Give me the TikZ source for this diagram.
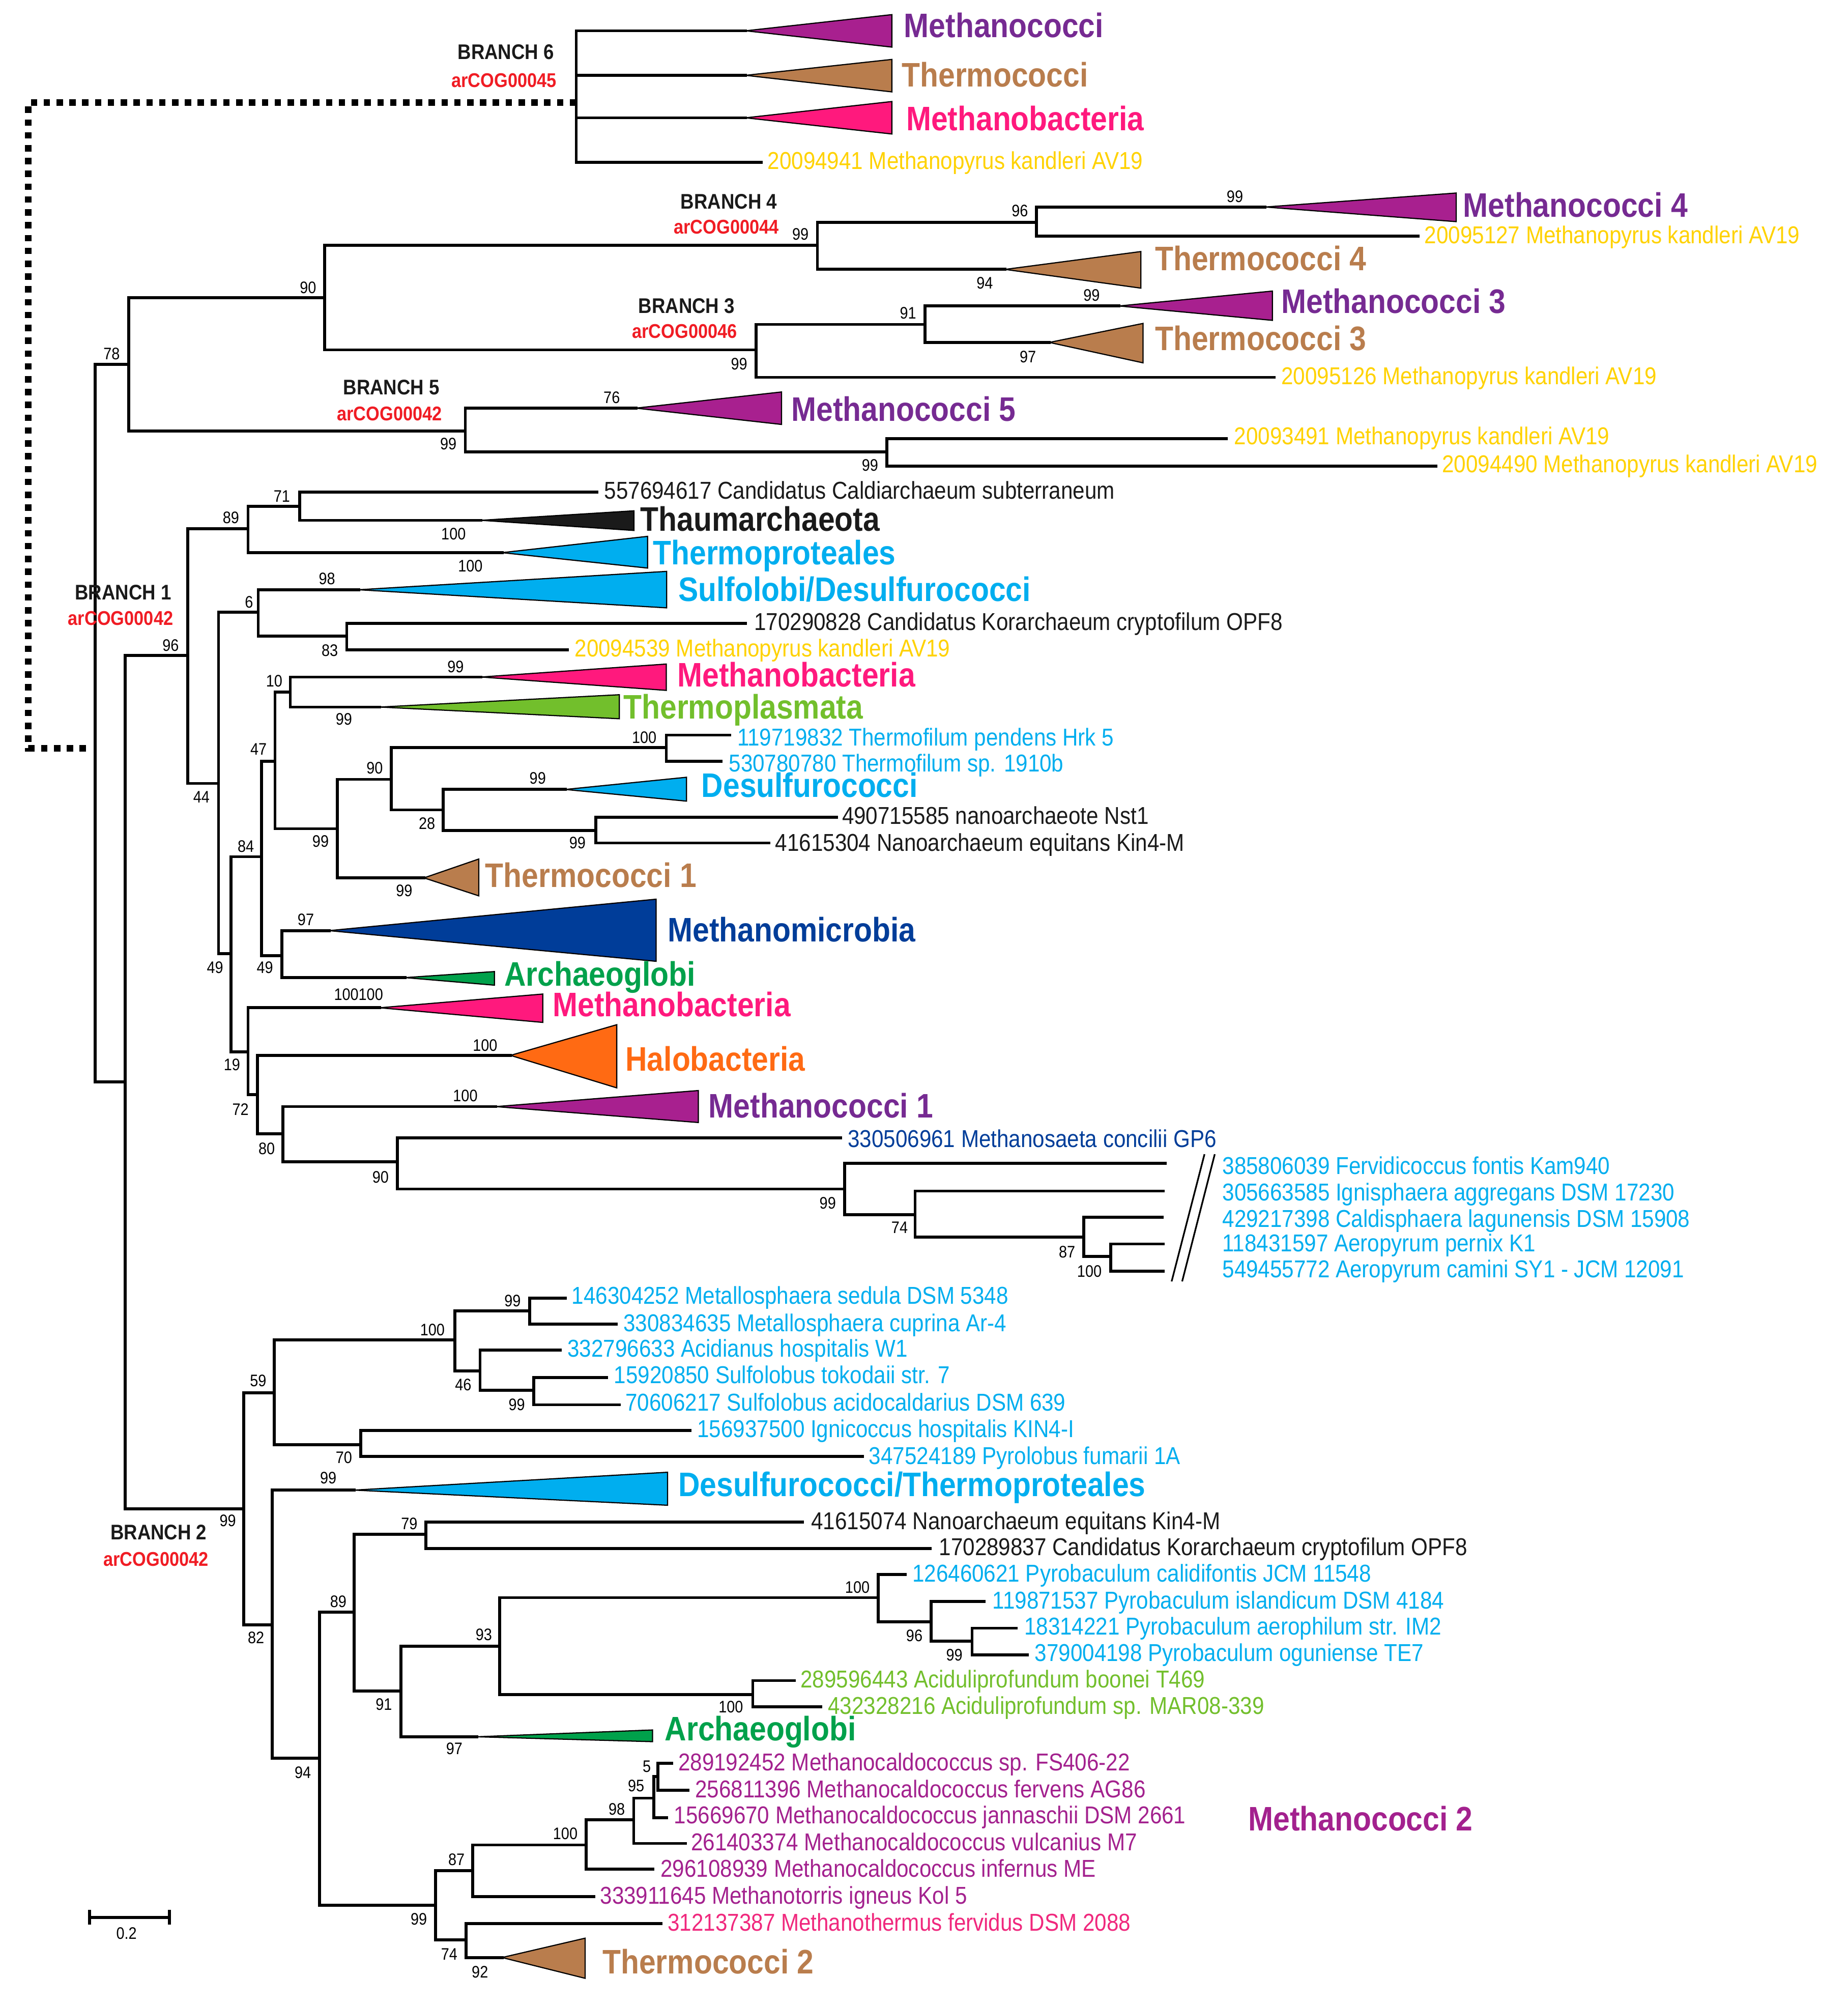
\documentclass[tikz,border=0pt]{standalone}
\usepackage{fontspec}
\setmainfont{Liberation Sans}[FakeStretch=0.88]
\definecolor{yel}{RGB}{255,210,0}
\definecolor{mcT}{RGB}{118,42,146}
\definecolor{mcF}{RGB}{168,32,143}
\definecolor{mag}{RGB}{163,33,142}
\definecolor{brn}{RGB}{185,125,77}
\definecolor{pnk}{RGB}{255,25,125}
\definecolor{lbl}{RGB}{0,174,239}
\definecolor{ygr}{RGB}{114,191,44}
\definecolor{dbl}{RGB}{0,61,153}
\definecolor{grn}{RGB}{0,161,75}
\definecolor{org}{RGB}{255,106,19}
\definecolor{cogred}{RGB}{240,28,36}
\definecolor{pnk2}{RGB}{240,40,125}
\definecolor{dk}{RGB}{26,26,26}
\tikzset{
  brline/.style={line width=2.3pt, line cap=rect, line join=miter},
  tribox/.style={line width=0.9pt, line join=miter, draw=black},
  leaflab/.style={anchor=base west, inner sep=0pt, font=\fontsize{19}{22}\selectfont},
  cladelab/.style={anchor=base west, inner sep=0pt, font=\fontsize{26.5}{30}\selectfont\bfseries},
  bslab/.style={inner sep=0pt, font=\fontsize{13}{15}\selectfont},
  branchlab/.style={inner sep=0pt, text=dk, font=\fontsize{16.5}{19}\selectfont\bfseries},
  coglab/.style={inner sep=0pt, text=cogred, font=\fontsize{15.5}{18}\selectfont\bfseries},
  dotconn/.style={line width=5pt, dash pattern=on 5pt off 5pt},
  brkline/.style={line width=1.3pt},
}
\begin{document}
\begin{tikzpicture}[x=1pt,y=-1pt]
\useasboundingbox[fill=white] (0,0) rectangle (1440,1562.2);

% ---------- coordinates: internal nodes ----------
\coordinate (root) at (74,583);
\coordinate (nB6) at (449,80);
\coordinate (n78) at (100.3,284);
\coordinate (n90a) at (253,232);
\coordinate (nB4) at (637,191);
\coordinate (n96a) at (807.8,173.2);
\coordinate (nB3) at (589.2,272.6);
\coordinate (n91a) at (720.7,252.8);
\coordinate (nB5) at (362.6,335.8);
\coordinate (n99a) at (691.1,352.2);
\coordinate (nB12) at (97.6,843);
\coordinate (n96b) at (146.3,510.8);
\coordinate (n89a) at (193.3,412);
\coordinate (n71) at (233.4,394.5);
\coordinate (n44) at (170.3,610.4);
\coordinate (n6) at (201.2,477);
\coordinate (n83) at (270.2,495.7);
\coordinate (n49a) at (180.1,743.1);
\coordinate (n84) at (203.8,667.5);
\coordinate (n47) at (214.3,593.1);
\coordinate (n10) at (226.2,539.2);
\coordinate (n99b) at (263,645.7);
\coordinate (n90b) at (305,607.2);
\coordinate (n100a) at (519.2,582.5);
\coordinate (n28) at (345.2,631);
\coordinate (n99c) at (464.2,647);
\coordinate (n49b) at (219.6,744.5);
\coordinate (n19) at (193.3,819.7);
\coordinate (n72) at (200.5,852.9);
\coordinate (n80) at (220.3,883.4);
\coordinate (n90c) at (309.7,905.2);
\coordinate (n99d) at (658.2,926.4);
\coordinate (n74a) at (713.1,946.3);
\coordinate (n87a) at (844.6,963.9);
\coordinate (n100b) at (865.4,979);
\coordinate (nB2) at (190,1175.5);
\coordinate (n59) at (213.7,1085.2);
\coordinate (n100c) at (354.4,1044);
\coordinate (n99e) at (412.6,1021.5);
\coordinate (n46) at (374.1,1068);
\coordinate (n99f) at (415.8,1083.3);
\coordinate (n70) at (281,1125.6);
\coordinate (n82) at (212,1266.1);
\coordinate (n94) at (248.9,1370);
\coordinate (n89b) at (276.1,1256);
\coordinate (n79) at (332,1195.5);
\coordinate (n91b) at (312.3,1317.4);
\coordinate (n93) at (389.5,1282.8);
\coordinate (n100d) at (684.5,1244.8);
\coordinate (n96c) at (725.6,1263.6);
\coordinate (n99h) at (757.5,1278.6);
\coordinate (n100e) at (586.6,1320.4);
\coordinate (n99g) at (339.3,1484.6);
\coordinate (n87b) at (368.2,1457.6);
\coordinate (n100f) at (456.9,1437.5);
\coordinate (n98) at (493.8,1418);
\coordinate (n95) at (509.5,1401);
\coordinate (n5) at (512.8,1384);
\coordinate (n74b) at (363.2,1511.4);

% ---------- triangle apices ----------
\coordinate (aMc0) at (581,24);
\coordinate (aTc0) at (581,58.7);
\coordinate (aMb0) at (581,91.8);
\coordinate (aM4) at (985.9,161.3);
\coordinate (aT4) at (783.2,209.9);
\coordinate (aM3) at (872,238.4);
\coordinate (aT3) at (817.7,266.8);
\coordinate (aM5) at (495.5,318);
\coordinate (aTh) at (374.7,405.4);
\coordinate (aTp) at (391.2,430.6);
\coordinate (aSu) at (279.4,459.5);
\coordinate (aMb2) at (374.8,527.5);
\coordinate (aTpl) at (295.9,550.9);
\coordinate (aTc1) at (330.4,684);
\coordinate (aDs) at (440.5,615.1);
\coordinate (aMm) at (256.4,725.1);
\coordinate (aAg1) at (315.6,761.7);
\coordinate (aMb3) at (295.9,785.2);
\coordinate (aHb) at (397.8,822.3);
\coordinate (aMc1) at (386.3,862.2);
\coordinate (aDT) at (276,1161);
\coordinate (aAg2) at (371.5,1353.2);
\coordinate (aTc2) at (391.2,1525.2);

% ---------- leaf ends ----------
\coordinate (e0) at (593,126.4);
\coordinate (e1) at (1104.9,184.1);
\coordinate (e2) at (992.7,294);
\coordinate (e3) at (955.7,341.8);
\coordinate (e4) at (1118.9,363.3);
\coordinate (e5) at (465,383.3);
\coordinate (e6) at (581,485.6);
\coordinate (e7) at (442.1,506.3);
\coordinate (e8) at (568.5,572.7);
\coordinate (e9) at (562,593.1);
\coordinate (e10) at (651.7,636.9);
\coordinate (e11) at (599,656.8);
\coordinate (e12) at (655,886.6);
\coordinate (e13) at (908.1,906.5);
\coordinate (e14) at (906.4,928);
\coordinate (e15) at (905.8,948.4);
\coordinate (e16) at (906.4,969.2);
\coordinate (e17) at (906.4,990.4);
\coordinate (e18) at (440.5,1011.4);
\coordinate (e19) at (480,1031.6);
\coordinate (e20) at (436.5,1052);
\coordinate (e21) at (472.7,1073.3);
\coordinate (e22) at (482.6,1094.5);
\coordinate (e23) at (537.6,1114.4);
\coordinate (e24) at (672.1,1134.9);
\coordinate (e25) at (625.4,1186);
\coordinate (e26) at (725,1206.5);
\coordinate (e27) at (705.3,1226.8);
\coordinate (e28) at (766.7,1247.8);
\coordinate (e29) at (792,1268.6);
\coordinate (e30) at (800.6,1289.3);
\coordinate (e31) at (618.8,1309.4);
\coordinate (e32) at (639.5,1329.9);
\coordinate (e33) at (462.9,1477.6);
\coordinate (e34) at (508.7,1456.3);
\coordinate (e35) at (534.3,1436.3);
\coordinate (e36) at (519.5,1416.3);
\coordinate (e37) at (523.5,1373.7);
\coordinate (e38) at (536,1395);
\coordinate (e39) at (515.2,1498.9);

% ---------- dotted connector ----------
\coordinate (d1) at (22,80);
\coordinate (d2) at (22,583);
\coordinate (d3) at (70,583);
\draw[dotconn] (nB6) -- (d1) -- (d2) -- (d3);

% ---------- branches ----------
\draw[brline]
 (nB6) |- (aMc0) (nB6) |- (aTc0) (nB6) |- (aMb0) (nB6) |- (e0)
 (root) |- (n78) (root) |- (nB12)
 (n78) |- (n90a) (n78) |- (nB5)
 (n90a) |- (nB4) (n90a) |- (nB3)
 (nB4) |- (n96a) (nB4) |- (aT4)
 (n96a) |- (aM4) (n96a) |- (e1)
 (nB3) |- (n91a) (nB3) |- (e2)
 (n91a) |- (aM3) (n91a) |- (aT3)
 (nB5) |- (aM5) (nB5) |- (n99a)
 (n99a) |- (e3) (n99a) |- (e4)
 (nB12) |- (n96b) (nB12) |- (nB2)
 (n96b) |- (n89a) (n96b) |- (n44)
 (n89a) |- (n71) (n89a) |- (aTp)
 (n71) |- (e5) (n71) |- (aTh)
 (n44) |- (n6) (n44) |- (n49a)
 (n6) |- (aSu) (n6) |- (n83)
 (n83) |- (e6) (n83) |- (e7)
 (n49a) |- (n84) (n49a) |- (n19)
 (n84) |- (n47) (n84) |- (n49b)
 (n47) |- (n10) (n47) |- (n99b)
 (n10) |- (aMb2) (n10) |- (aTpl)
 (n99b) |- (n90b) (n99b) |- (aTc1)
 (n90b) |- (n100a) (n90b) |- (n28)
 (n100a) |- (e8) (n100a) |- (e9)
 (n28) |- (aDs) (n28) |- (n99c)
 (n99c) |- (e10) (n99c) |- (e11)
 (n49b) |- (aMm) (n49b) |- (aAg1)
 (n19) |- (aMb3) (n19) |- (n72)
 (n72) |- (aHb) (n72) |- (n80)
 (n80) |- (aMc1) (n80) |- (n90c)
 (n90c) |- (e12) (n90c) |- (n99d)
 (n99d) |- (e13) (n99d) |- (n74a)
 (n74a) |- (e14) (n74a) |- (n87a)
 (n87a) |- (e15) (n87a) |- (n100b)
 (n100b) |- (e16) (n100b) |- (e17)
 (nB2) |- (n59) (nB2) |- (n82)
 (n59) |- (n100c) (n59) |- (n70)
 (n100c) |- (n99e) (n100c) |- (n46)
 (n99e) |- (e18) (n99e) |- (e19)
 (n46) |- (e20) (n46) |- (n99f)
 (n99f) |- (e21) (n99f) |- (e22)
 (n70) |- (e23) (n70) |- (e24)
 (n82) |- (aDT) (n82) |- (n94)
 (n94) |- (n89b) (n94) |- (n99g)
 (n89b) |- (n79) (n89b) |- (n91b)
 (n79) |- (e25) (n79) |- (e26)
 (n91b) |- (n93) (n91b) |- (aAg2)
 (n93) |- (n100d) (n93) |- (n100e)
 (n100d) |- (e27) (n100d) |- (n96c)
 (n96c) |- (e28) (n96c) |- (n99h)
 (n99h) |- (e29) (n99h) |- (e30)
 (n100e) |- (e31) (n100e) |- (e32)
 (n99g) |- (n87b) (n99g) |- (n74b)
 (n87b) |- (n100f) (n87b) |- (e33)
 (n100f) |- (n98) (n100f) |- (e34)
 (n98) |- (n95) (n98) |- (e35)
 (n95) |- (n5) (n95) |- (e36)
 (n5) |- (e37) (n5) |- (e38)
 (n74b) |- (e39) (n74b) |- (aTc2);

% ---------- collapsed clades ----------
\draw[tribox, fill=mcF] (aMc0) -- (695,11.4) -- (695,36.7) -- cycle;
\draw[tribox, fill=brn] (aTc0) -- (695,46.3) -- (695,71.6) -- cycle;
\draw[tribox, fill=pnk] (aMb0) -- (695,79.1) -- (695,104.4) -- cycle;
\draw[tribox, fill=mcF] (aM4) -- (1134.8,150.4) -- (1134.8,172.7) -- cycle;
\draw[tribox, fill=brn] (aT4) -- (889,196) -- (889,224.5) -- cycle;
\draw[tribox, fill=mcF] (aM3) -- (991.5,226.8) -- (991.5,249.6) -- cycle;
\draw[tribox, fill=brn] (aT3) -- (890.7,252) -- (890.7,282.7) -- cycle;
\draw[tribox, fill=mcF] (aM5) -- (609,305.4) -- (609,330.7) -- cycle;
\draw[tribox, fill=dk] (aTh) -- (494,398) -- (494,413.3) -- cycle;
\draw[tribox, fill=lbl] (aTp) -- (504.6,417.9) -- (504.6,442.6) -- cycle;
\draw[tribox, fill=lbl] (aSu) -- (519.5,445.2) -- (519.5,473.6) -- cycle;
\draw[tribox, fill=pnk] (aMb2) -- (519.2,517.4) -- (519.2,537.9) -- cycle;
\draw[tribox, fill=ygr] (aTpl) -- (482.6,541.3) -- (482.6,560) -- cycle;
\draw[tribox, fill=brn] (aTc1) -- (373.1,669.3) -- (373.1,698) -- cycle;
\draw[tribox, fill=lbl] (aDs) -- (535,605.6) -- (535,624.2) -- cycle;
\draw[tribox, fill=dbl] (aMm) -- (511.3,700.6) -- (511.3,749) -- cycle;
\draw[tribox, fill=grn] (aAg1) -- (385.3,757) -- (385.3,767.6) -- cycle;
\draw[tribox, fill=pnk] (aMb3) -- (423,774.5) -- (423,796.6) -- cycle;
\draw[tribox, fill=org] (aHb) -- (480.6,798.4) -- (480.6,847.6) -- cycle;
\draw[tribox, fill=mcF] (aMc1) -- (544.2,849.7) -- (544.2,874.6) -- cycle;
\draw[tribox, fill=lbl] (aDT) -- (520.2,1147.1) -- (520.2,1172.8) -- cycle;
\draw[tribox, fill=grn] (aAg2) -- (508.5,1347.9) -- (508.5,1357) -- cycle;
\draw[tribox, fill=brn] (aTc2) -- (456,1510.1) -- (456,1541.4) -- cycle;

% ---------- break marks ----------
\coordinate (k1a) at (938.6,899.3);
\coordinate (k1b) at (913,998.4);
\coordinate (k2a) at (946.6,899.3);
\coordinate (k2b) at (921.2,998.4);
\draw[brkline] (k1a) -- (k1b) (k2a) -- (k2b);

% ---------- scale bar ----------
\coordinate (sbl) at (69.7,1493.9);
\coordinate (sbr) at (132.1,1493.9);
\draw[line width=2.3pt] (sbl) -- (sbr);
\draw[line width=2.3pt] (69.7,1488) -- (69.7,1499.6) (132.1,1488) -- (132.1,1499.6);
\node[bslab] (sbt) at (98.6,1506.4) {0.2};

% ---------- clade labels ----------
\node[cladelab,text=mcT] (c1) at (704.3,29) {Methanococci};
\node[cladelab,text=brn] (c2) at (702.6,67.8) {Thermococci};
\node[cladelab,text=pnk] (c3) at (706,101.6) {Methanobacteria};
\node[cladelab,text=mcT] (c4) at (1140,169) {Methanococci 4};
\node[cladelab,text=brn] (c5) at (900,210.6) {Thermococci 4};
\node[cladelab,text=mcT] (c6) at (998.3,244) {Methanococci 3};
\node[cladelab,text=brn] (c7) at (900,273) {Thermococci 3};
\node[cladelab,text=mcT] (c8) at (616.5,328) {Methanococci 5};
\node[cladelab,text=dk] (c9) at (498.8,413.9) {Thaumarchaeota};
\node[cladelab,text=lbl] (c10) at (508.7,439.9) {Thermoproteales};
\node[cladelab,text=lbl] (c11) at (528.4,468.3) {Sulfolobi/Desulfurococci};
\node[cladelab,text=pnk] (c12) at (527.7,535.2) {Methanobacteria};
\node[cladelab,text=ygr] (c13) at (485.7,559.9) {Thermoplasmata};
\node[cladelab,text=lbl] (c14) at (546.5,621) {Desulfurococci};
\node[cladelab,text=brn] (c15) at (378,691.4) {Thermococci 1};
\node[cladelab,text=dbl] (c16) at (520.2,733.8) {Methanomicrobia};
\node[cladelab,text=grn] (c17) at (392.8,768.4) {Archaeoglobi};
\node[cladelab,text=pnk] (c18) at (430.6,791.8) {Methanobacteria};
\node[cladelab,text=org] (c19) at (487.3,834.3) {Halobacteria};
\node[cladelab,text=mcT] (c20) at (552.1,870.9) {Methanococci 1};
\node[cladelab,text=lbl] (c21) at (528.4,1165.7) {Desulfurococci/Thermoproteales};
\node[cladelab,text=grn] (c22) at (517.9,1356.2) {Archaeoglobi};
\node[cladelab,text=mag] (c23) at (972.6,1426.3) {Methanococci 2};
\node[cladelab,text=brn] (c24) at (469.4,1537.7) {Thermococci 2};

% ---------- leaf labels ----------
\node[leaflab,text=yel] (t0) at (598,132) {20094941 Methanopyrus kandleri AV19};
\node[leaflab,text=yel] (t1) at (1109.9,189.6) {20095127 Methanopyrus kandleri AV19};
\node[leaflab,text=yel] (t2) at (998.3,299.6) {20095126 Methanopyrus kandleri AV19};
\node[leaflab,text=yel] (t3) at (961.6,346.4) {20093491 Methanopyrus kandleri AV19};
\node[leaflab,text=yel] (t4) at (1123.6,368) {20094490 Methanopyrus kandleri AV19};
\node[leaflab,text=dk] (t5) at (470.7,388.6) {557694617 Candidatus Caldiarchaeum subterraneum};
\node[leaflab,text=dk] (t6) at (587.5,491.2) {170290828 Candidatus Korarchaeum cryptofilum OPF8};
\node[leaflab,text=yel] (t7) at (447.7,511.6) {20094539 Methanopyrus kandleri AV19};
\node[leaflab,text=lbl] (t8) at (574.4,581.2) {119719832 Thermofilum pendens Hrk 5};
\node[leaflab,text=lbl] (t9) at (567.8,601.1) {530780780 Thermofilum sp. 1910b};
\node[leaflab,text=dk] (t10) at (656,642.2) {490715585 nanoarchaeote Nst1};
\node[leaflab,text=dk] (t11) at (604,663) {41615304 Nanoarchaeum equitans Kin4-M};
\node[leaflab,text=dbl] (t12) at (660.5,894) {330506961 Methanosaeta concilii GP6};
\node[leaflab,text=lbl] (t13) at (952.4,915) {385806039 Fervidicoccus fontis Kam940};
\node[leaflab,text=lbl] (t14) at (952.4,935.5) {305663585 Ignisphaera aggregans DSM 17230};
\node[leaflab,text=lbl] (t15) at (952.4,956.2) {429217398 Caldisphaera lagunensis DSM 15908};
\node[leaflab,text=lbl] (t16) at (952.4,975.2) {118431597 Aeropyrum pernix K1};
\node[leaflab,text=lbl] (t17) at (952.4,995.5) {549455772 Aeropyrum camini SY1 - JCM 12091};
\node[leaflab,text=lbl] (t18) at (445.4,1016.2) {146304252 Metallosphaera sedula DSM 5348};
\node[leaflab,text=lbl] (t19) at (485.7,1037.4) {330834635 Metallosphaera cuprina Ar-4};
\node[leaflab,text=lbl] (t20) at (442.1,1057.3) {332796633 Acidianus hospitalis W1};
\node[leaflab,text=lbl] (t21) at (478.3,1078) {15920850 Sulfolobus tokodaii str. 7};
\node[leaflab,text=lbl] (t22) at (487.3,1099.3) {70606217 Sulfolobus acidocaldarius DSM 639};
\node[leaflab,text=lbl] (t23) at (543.2,1119.7) {156937500 Ignicoccus hospitalis KIN4-I};
\node[leaflab,text=lbl] (t24) at (677,1141) {347524189 Pyrolobus fumarii 1A};
\node[leaflab,text=dk] (t25) at (632,1191.7) {41615074 Nanoarchaeum equitans Kin4-M};
\node[leaflab,text=dk] (t26) at (731.6,1211.8) {170289837 Candidatus Korarchaeum cryptofilum OPF8};
\node[leaflab,text=lbl] (t27) at (710.8,1232.3) {126460621 Pyrobaculum calidifontis JCM 11548};
\node[leaflab,text=lbl] (t28) at (773.3,1253.6) {119871537 Pyrobaculum islandicum DSM 4184};
\node[leaflab,text=lbl] (t29) at (798,1273.6) {18314221 Pyrobaculum aerophilum str. IM2};
\node[leaflab,text=lbl] (t30) at (806.2,1294.3) {379004198 Pyrobaculum oguniense TE7};
\node[leaflab,text=ygr] (t31) at (623.7,1314.9) {289596443 Aciduliprofundum boonei T469};
\node[leaflab,text=ygr] (t32) at (645.1,1335.5) {432328216 Aciduliprofundum sp. MAR08-339};
\node[leaflab,text=mag] (t37) at (528.4,1379.5) {289192452 Methanocaldococcus sp. FS406-22};
\node[leaflab,text=mag] (t38) at (541.5,1400.5) {256811396 Methanocaldococcus fervens AG86};
\node[leaflab,text=mag] (t36) at (525.1,1420.8) {15669670 Methanocaldococcus jannaschii DSM 2661};
\node[leaflab,text=mag] (t35) at (538.3,1442) {261403374 Methanocaldococcus vulcanius M7};
\node[leaflab,text=mag] (t34) at (514.6,1462.6) {296108939 Methanocaldococcus infernus ME};
\node[leaflab,text=mag] (t33) at (467.5,1483.3) {333911645 Methanotorris igneus Kol 5};
\node[leaflab,text=pnk2] (t39) at (520.2,1504.4) {312137387 Methanothermus fervidus DSM 2088};

% ---------- branch labels ----------
\node[branchlab] (b6) at (394.2,40.7) {BRANCH 6};
\node[coglab] (g6) at (392.8,62.8) {arCOG00045};
\node[branchlab] (b4) at (568,157) {BRANCH 4};
\node[coglab] (g4) at (566,177) {arCOG00044};
\node[branchlab] (b3) at (535,238.4) {BRANCH 3};
\node[coglab] (g3) at (533.5,258) {arCOG00046};
\node[branchlab] (b5) at (305,302) {BRANCH 5};
\node[coglab] (g5) at (303.5,322.4) {arCOG00042};
\node[branchlab] (b1) at (96,461.7) {BRANCH 1};
\node[coglab] (g1) at (94,481.6) {arCOG00042};
\node[branchlab] (b2) at (123.6,1194) {BRANCH 2};
\node[coglab] (g2) at (121.6,1214.8) {arCOG00042};

% ---------- support values ----------
\foreach \px/\py/\v [count=\i] in {
 623.7/182.6/99, 794.7/164.3/96, 962.3/153/99, 767.4/220.7/94, 850.6/230/99,
 707.6/244/91, 801/278/97, 576/283.7/99, 240/224/90, 87/275.6/78,
 476.7/309.7/76, 349.4/345.9/99, 678/362.3/99, 219.6/386.5/71, 180/403.3/89,
 353.4/416/100, 366.5/441/100, 254.8/451/98, 194/469/6, 133/502.8/96,
 257/506.8/83, 355/519.3/99, 213.7/530.7/10, 268/560.4/99, 502/574.5/100,
 201.5/583.8/47, 292/598.4/90, 419/606.4/99, 157/621/44, 332.7/641.7/28,
 249.8/655.5/99, 450/656.8/99, 191.6/659.5/84, 315/694/99, 238.3/716.6/97,
 167.6/753.8/49, 206.4/753.8/49, 279.4/775/100100, 378/814.4/100, 180.8/829.5/19,
 362.6/853.7/100, 187.4/864.3/72, 207.8/894.8/80, 296.5/917.1/90, 645/937.3/99,
 701/956.4/74, 831.5/975.5/87, 848.9/990.4/100, 399.4/1013.5/99, 337/1036/100,
 201.2/1075.9/59, 361/1079/46, 402.7/1094.5/99, 268/1135.7/70, 255.8/1151.6/99,
 177.5/1185/99, 318.9/1187.2/79, 668.1/1236.8/100, 263.6/1247.8/89, 377/1273.6/93,
 712.5/1274.3/96, 199.5/1276/82, 743.7/1289.3/99, 299.1/1327.9/91, 569.5/1329.9/100,
 354/1362.4/97, 504/1376.2/5, 236/1381.2/94, 495.7/1391.2/95, 480.6/1409.5/98,
 440.5/1428.8/100, 355.7/1448.8/87, 326.4/1495.1/99, 350.1/1522.6/74, 374/1536.4/92}
 \node[bslab] (s\i) at (\px,\py) {\v};

\end{tikzpicture}
\end{document}
